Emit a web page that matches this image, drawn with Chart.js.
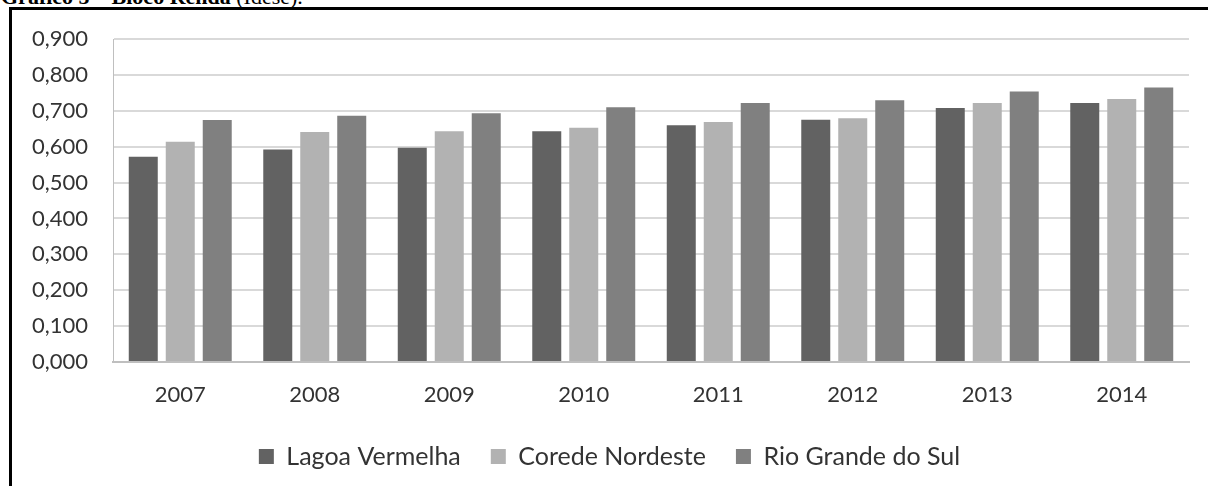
<!DOCTYPE html>
<html>
<head>
<meta charset="utf-8">
<script src="https://cdn.jsdelivr.net/npm/chart.js"></script>
<style>
  html, body { margin: 0; padding: 0; background: #fff; overflow: hidden; width: 1208px; height: 486px; }
  #title { position: absolute; left: 1px; top: -14px; font: 22px/1 "Liberation Serif", serif; color: #000; white-space: nowrap; }
  #frame { position: absolute; left: 9px; top: 7px; width: 1300px; height: 600px; border-left: 3px solid #000; border-top: 3px solid #000; }
  #myChart { position: absolute; left: 30px; top: 0; }
</style>
</head>
<body>
<div id="title"><b>Gráfico 5 – Bloco Renda</b> (Idese).</div>
<div id="frame"></div>
<canvas id="myChart" width="1178" height="486"></canvas>
<script>
let labels = ['2007', '2008', '2009', '2010', '2011', '2012', '2013', '2014'];
let lagoaVermelha = [0.572, 0.592, 0.597, 0.643, 0.660, 0.675, 0.708, 0.722];
let coredeNordeste = [0.614, 0.641, 0.643, 0.653, 0.669, 0.679, 0.722, 0.733];
let rioGrandeDoSul = [0.674, 0.686, 0.693, 0.710, 0.722, 0.729, 0.754, 0.765];
let seriesNames = ['Lagoa Vermelha', 'Corede Nordeste', 'Rio Grande do Sul'];
let colors = ['#626262', '#b2b2b2', '#808080'];

let ctx = document.getElementById('myChart').getContext('2d');

let myChart = new Chart(ctx, {
    type: 'bar',
    data: {
        labels: labels,
        datasets: [
            { label: seriesNames[0], data: lagoaVermelha, backgroundColor: colors[0] },
            { label: seriesNames[1], data: coredeNordeste, backgroundColor: colors[1] },
            { label: seriesNames[2], data: rioGrandeDoSul, backgroundColor: colors[2] }
        ]
    },
    options: {
        responsive: false,
        animation: false,
        categoryPercentage: 0.825,
        barPercentage: 0.784,
        layout: {
            padding: { left: 0, right: 19, top: 39, bottom: 7 }
        },
        plugins: {
            legend: {
                position: 'bottom',
                labels: {
                    boxWidth: 15,
                    boxHeight: 15,
                    padding: 30,
                    color: '#333',
                    font: { family: 'Lato', size: 25 }
                }
            },
            tooltip: { enabled: false }
        },
        scales: {
            x: {
                grid: { display: false },
                border: { display: true, color: '#bfbfbf', width: 2 },
                ticks: {
                    color: '#333',
                    padding: 12,
                    font: { family: 'Lato', size: 22 }
                },
                afterFit: function (s) { s.height = 52; }
            },
            y: {
                min: 0,
                max: 0.9,
                grid: { color: '#d9d9d9', lineWidth: 2, drawTicks: false },
                border: { display: true, color: '#bfbfbf', width: 1 },
                ticks: {
                    stepSize: 0.1,
                    color: '#333',
                    padding: 25,
                    font: { family: 'Lato', size: 22 },
                    callback: function (v) { return v.toFixed(3).replace('.', ','); }
                },
                afterFit: function (s) { s.width = 83; }
            }
        }
    }
});
</script>
</body>
</html>
